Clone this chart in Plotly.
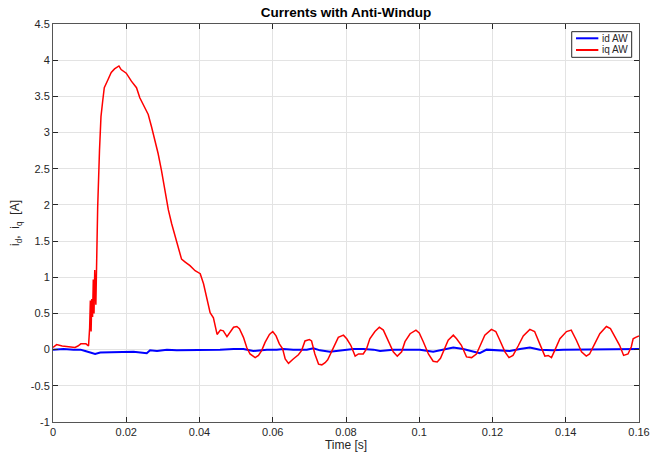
import plotly.graph_objects as go

# ---- data ----
iq_t = [0.0000, 0.0010, 0.0025, 0.0040, 0.0060, 0.0068, 0.0076, 0.0090, 0.0097,
        0.0100, 0.0102, 0.0104, 0.0106, 0.0108, 0.0110, 0.0112, 0.0114, 0.0117,
        0.0119, 0.0122, 0.0127, 0.0131, 0.0136, 0.0140, 0.0150, 0.0159, 0.0168,
        0.0175, 0.0180, 0.0186, 0.0200, 0.0214, 0.0228, 0.0237, 0.0250, 0.0260,
        0.0269, 0.0278, 0.0287, 0.0296, 0.0306, 0.0315, 0.0324, 0.0333, 0.0342,
        0.0351, 0.0361, 0.0374, 0.0388, 0.0402, 0.0411, 0.0420, 0.0429, 0.0438,
        0.0443, 0.0448, 0.0457, 0.0465, 0.0475, 0.0484, 0.0493, 0.0502, 0.0509,
        0.0520, 0.0529, 0.0538, 0.0552, 0.0561, 0.0570, 0.0579, 0.0591, 0.0600,
        0.0609, 0.0618, 0.0627, 0.0634, 0.0643, 0.0656, 0.0670, 0.0679, 0.0688,
        0.0700, 0.0706, 0.0715, 0.0725, 0.0734, 0.0743, 0.0750, 0.0756, 0.0770,
        0.0779, 0.0793, 0.0802, 0.0813, 0.0825, 0.0834, 0.0847, 0.0856, 0.0865,
        0.0879, 0.0891, 0.0902, 0.0915, 0.0929, 0.0940, 0.0952, 0.0961, 0.0975,
        0.0991, 0.1000, 0.1011, 0.1025, 0.1038, 0.1049, 0.1058, 0.1067, 0.1079,
        0.1093, 0.1102, 0.1115, 0.1129, 0.1143, 0.1156, 0.1165, 0.1179, 0.1197,
        0.1209, 0.1220, 0.1234, 0.1245, 0.1256, 0.1270, 0.1284, 0.1302, 0.1315,
        0.1329, 0.1343, 0.1352, 0.1361, 0.1370, 0.1384, 0.1402, 0.1415, 0.1429,
        0.1443, 0.1456, 0.1465, 0.1479, 0.1493, 0.1511, 0.1522, 0.1534, 0.1547,
        0.1558, 0.1570, 0.1579, 0.1584, 0.1591, 0.1600]
iq_v = [0.03, 0.07, 0.05, 0.04, 0.03, 0.05, 0.08, 0.08, 0.05,
        0.30, 0.68, 0.25, 0.70, 0.45, 0.97, 0.50, 1.10, 0.62,
        1.37, 1.97, 2.76, 3.22, 3.45, 3.62, 3.73, 3.83, 3.88,
        3.90, 3.92, 3.87, 3.82, 3.71, 3.62, 3.48, 3.36, 3.25,
        3.08, 2.90, 2.71, 2.48, 2.20, 1.93, 1.74, 1.58, 1.42,
        1.25, 1.21, 1.16, 1.09, 1.05, 0.91, 0.72, 0.51, 0.44,
        0.31, 0.21, 0.27, 0.26, 0.18, 0.24, 0.31, 0.32, 0.29,
        0.17, 0.03, -0.06, -0.11, -0.08, -0.01, 0.10, 0.21, 0.25,
        0.19, 0.08, 0.01, -0.13, -0.19, -0.13, -0.07, -0.01, 0.12,
        0.14, 0.12, -0.06, -0.20, -0.21, -0.18, -0.14, -0.08, 0.08,
        0.17, 0.20, 0.15, 0.06, -0.09, -0.06, -0.06, 0.01, 0.15,
        0.25, 0.31, 0.27, 0.13, -0.03, -0.09, -0.03, 0.11, 0.22,
        0.27, 0.23, 0.11, -0.06, -0.16, -0.17, -0.12, -0.01, 0.13,
        0.20, 0.15, 0.06, -0.10, -0.11, -0.06, 0.04, 0.20, 0.28,
        0.25, 0.13, -0.03, -0.11, -0.08, 0.05, 0.19, 0.28, 0.25,
        0.08, -0.09, -0.08, -0.11, -0.01, 0.15, 0.25, 0.27, 0.13,
        -0.03, -0.09, -0.06, 0.08, 0.22, 0.32, 0.29, 0.18, 0.06,
        -0.08, -0.06, 0.04, 0.15, 0.17, 0.19]

id_t = [0.0000, 0.0029, 0.0056, 0.0075, 0.0088, 0.0102, 0.0115, 0.0129, 0.0156,
        0.0184, 0.0220, 0.0256, 0.0265, 0.0284, 0.0311, 0.0338, 0.0365, 0.0402,
        0.0420, 0.0456, 0.0493, 0.0520, 0.0547, 0.0565, 0.0584, 0.0611, 0.0629,
        0.0656, 0.0693, 0.0711, 0.0729, 0.0756, 0.0784, 0.0820, 0.0847, 0.0875,
        0.0893, 0.0929, 0.0965, 0.1002, 0.1038, 0.1065, 0.1093, 0.1120, 0.1147,
        0.1165, 0.1184, 0.1220, 0.1247, 0.1275, 0.1302, 0.1329, 0.1347, 0.1365,
        0.1393, 0.1420, 0.1456, 0.1484, 0.1511, 0.1547, 0.1575, 0.1600]
id_v = [0.00, 0.01, 0.00, 0.00, -0.02, -0.04, -0.06, -0.04, -0.04,
        -0.03, -0.03, -0.05, -0.01, -0.02, 0.00, -0.01, -0.01, -0.01,
        0.00, 0.00, 0.01, 0.01, -0.02, -0.01, 0.00, 0.00, 0.01,
        0.00, 0.00, 0.02, -0.01, -0.03, -0.01, 0.01, 0.01, 0.00,
        -0.02, 0.00, 0.00, 0.00, -0.03, 0.00, 0.03, 0.01, -0.03,
        -0.05, 0.00, -0.01, -0.02, 0.01, 0.03, 0.00, -0.01, -0.01,
        0.00, 0.00, 0.01, 0.01, 0.01, 0.01, 0.01, 0.01]

series_names = ["id AW", "iq AW"]
series_colors = ["#0000ff", "#ff0000"]

x_ticks = [0, 0.02, 0.04, 0.06, 0.08, 0.10, 0.12, 0.14, 0.16]
x_ticklabels = ["0", "0.02", "0.04", "0.06", "0.08", "0.1", "0.12", "0.14", "0.16"]
y_ticks = [-1, -0.5, 0, 0.5, 1, 1.5, 2, 2.5, 3, 3.5, 4, 4.5]
y_ticklabels = ["-1", "-0.5", "0", "0.5", "1", "1.5", "2", "2.5", "3", "3.5", "4", "4.5"]

FONT = "Liberation Sans, Arial, Helvetica, sans-serif"
AXC = "#262626"

W, H = 651, 453

fig = go.Figure()
fig.add_trace(go.Scatter(x=id_t, y=id_v, mode="lines", name=series_names[0],
                         line=dict(color=series_colors[0], width=2)))
fig.add_trace(go.Scatter(x=iq_t, y=iq_v, mode="lines", name=series_names[1],
                         line=dict(color=series_colors[1], width=1.5)))

axis_common = dict(showgrid=True, gridcolor="#e3e3e3", gridwidth=1,
                   showline=True, linecolor="#555555", linewidth=1,
                   mirror="ticks", ticks="inside", ticklen=5, tickcolor=AXC,
                   tickfont=dict(family=FONT, size=11, color=AXC),
                   zeroline=False, automargin=False)

fig.update_xaxes(range=[0, 0.16], tickvals=x_ticks, ticktext=x_ticklabels,
                 title=dict(text="Time [s]", font=dict(family=FONT, size=12, color=AXC),
                            standoff=2),
                 **axis_common)
fig.update_yaxes(range=[-1, 4.5], tickvals=y_ticks, ticktext=y_ticklabels,
                 title=dict(text="i<sub>d</sub>,  i<sub>q</sub>  [A]",
                            font=dict(family=FONT, size=12, color=AXC), standoff=8),
                 **axis_common)

# MATLAB-style compact legend box (top right, inside the axes)
lx0, lx1, ly0, ly1 = 0.8852, 0.9875, 0.9163, 0.9807
fig.add_shape(type="rect", xref="paper", yref="paper", x0=lx0, x1=lx1, y0=ly0, y1=ly1,
              line=dict(color="#262626", width=1), fillcolor="white", layer="above")
for name, color, yy in zip(series_names, series_colors, [0.9641, 0.9347]):
    fig.add_shape(type="line", xref="paper", yref="paper", x0=0.8925, x1=0.9306,
                  y0=yy, y1=yy, line=dict(color=color, width=2), layer="above")
    fig.add_annotation(xref="paper", yref="paper", x=0.9340, y=yy, text=name,
                       showarrow=False, xanchor="left", yanchor="middle",
                       font=dict(family=FONT, size=10, color=AXC))

fig.update_layout(
    width=W, height=H,
    margin=dict(l=53, r=12, t=24, b=31),
    plot_bgcolor="white", paper_bgcolor="white",
    title=dict(text="<b>Currents with Anti-Windup</b>", x=(53 + (W - 12)) / 2 / W,
               xanchor="center", y=1 - 12 / H, yanchor="middle",
               font=dict(family=FONT, size=13.5, color="#000000")),
    showlegend=False,
)

# remove the browser's default 8 px page margin so the figure fills the window
fig.write_html("out.html", config={"displayModeBar": False},
               post_script="document.body.style.margin='0px';")
